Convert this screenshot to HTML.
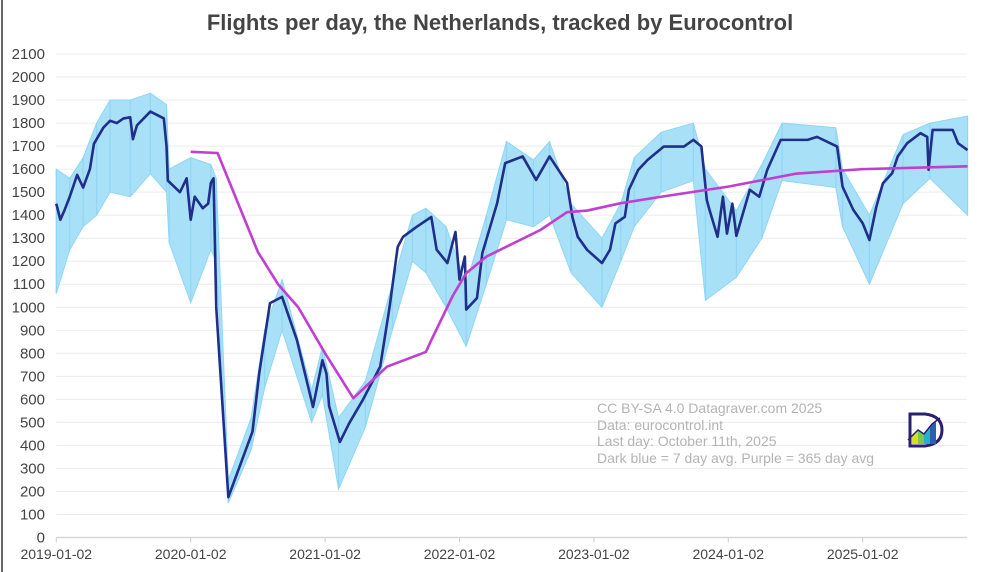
<!DOCTYPE html>
<html><head><meta charset="utf-8">
<style>
html,body{margin:0;padding:0;background:#fff;}
body{width:1000px;height:572px;overflow:hidden;position:relative;font-family:"Liberation Sans",sans-serif;}
#frame{position:absolute;left:1px;top:0;width:2px;height:572px;background:#666;}
</style></head>
<body>
<div id="frame"></div>
<svg id="chart" width="1000" height="572" style="position:absolute;left:0;top:0">
<text x="500" y="30" text-anchor="middle" font-size="22" font-weight="bold" fill="#444">Flights per day, the Netherlands, tracked by Eurocontrol</text>
<g id="grid"></g>
<g id="yaxis"></g>
<g id="xaxis"></g>
<g id="series"></g>
<g font-size="14" fill="#b4b4b4">
<text x="597" y="413">CC BY-SA 4.0 Datagraver.com 2025</text>
<text x="597" y="430">Data: eurocontrol.int</text>
<text x="597" y="446">Last day: October 11th, 2025</text>
<text x="597" y="463">Dark blue = 7 day avg. Purple = 365 day avg</text>
</g>
<g>
<path d="M910 414 L925 414 Q942 416 942 430 Q942 444 925 446 L910 446 Z" fill="#fff" stroke="#2a1f70" stroke-width="3"/>
<polygon points="912,444 912,436 918,430 918,444" fill="#d6e020"/>
<polygon points="918,444 918,430 924,434 924,444" fill="#7cc84a"/>
<polygon points="924,444 924,434 930,426 930,444" fill="#29b0c8"/>
<polygon points="930,444 930,426 936,422 936,444" fill="#2b5fb0"/>
<polyline points="908,440 918,430 924,434 932,424 940,418" fill="none" stroke="#2a1f70" stroke-width="1.5"/>
</g>
</svg>
<script>
// ---- data (t = years since 2019-01-02) ----
const avgDates=[0,0.03,0.06,0.1,0.155,0.2,0.25,0.28,0.35,0.4,0.45,0.5,0.55,0.57,0.6,0.7,0.8,0.82,0.83,0.92,0.97,1.0,1.03,1.09,1.13,1.15,1.17,1.19,1.28,1.46,1.51,1.59,1.68,1.79,1.91,1.98,2.01,2.03,2.11,2.18,2.28,2.41,2.48,2.54,2.58,2.68,2.79,2.83,2.91,2.97,3.0,3.04,3.05,3.13,3.17,3.28,3.34,3.47,3.57,3.67,3.8,3.84,3.88,3.95,4.06,4.12,4.16,4.23,4.26,4.33,4.4,4.52,4.67,4.74,4.8,4.84,4.86,4.92,4.96,4.99,5.03,5.06,5.16,5.23,5.29,5.39,5.59,5.66,5.81,5.85,5.93,6.0,6.05,6.1,6.15,6.22,6.26,6.33,6.43,6.48,6.49,6.52,6.67,6.71,6.78];
const avg7=[1450,1380,1420,1480,1575,1520,1600,1710,1780,1810,1800,1820,1825,1730,1790,1850,1820,1700,1550,1500,1560,1380,1480,1430,1450,1540,1560,1000,175,460,714,1018,1045,858,567,770,712,570,415,497,597,742,1002,1262,1306,1349,1392,1250,1192,1327,1120,1220,990,1040,1235,1452,1626,1655,1553,1655,1540,1392,1306,1249,1192,1250,1364,1393,1510,1597,1640,1698,1698,1727,1698,1466,1423,1306,1480,1320,1450,1310,1510,1480,1597,1727,1727,1740,1698,1524,1423,1365,1292,1433,1538,1583,1654,1712,1756,1740,1597,1770,1770,1712,1683];
const yrDates=[1.0,1.2,1.5,1.65,1.8,2.0,2.21,2.46,2.75,2.79,2.95,3.05,3.2,3.6,3.8,3.95,4.2,4.5,5.0,5.5,6.0,6.78];
const avg365=[1675,1670,1240,1100,1000,800,605,742,806,857,1050,1148,1220,1335,1413,1420,1452,1480,1524,1580,1600,1612];
const bandDates=[0,0.1,0.2,0.3,0.4,0.55,0.7,0.82,0.84,1.0,1.15,1.19,1.28,1.45,1.55,1.68,1.9,1.98,2.1,2.3,2.5,2.65,2.75,2.9,3.05,3.2,3.35,3.55,3.67,3.83,4.06,4.2,4.3,4.5,4.74,4.83,5.06,5.25,5.4,5.8,5.85,6.05,6.3,6.5,6.78];
const dailyHi=[1600,1560,1650,1800,1900,1900,1930,1880,1600,1650,1620,1560,250,520,900,1120,640,830,520,680,1100,1400,1430,1350,1100,1400,1720,1640,1720,1450,1300,1450,1650,1760,1800,1600,1420,1620,1800,1780,1600,1400,1750,1800,1830];
const dailyLo=[1060,1250,1350,1400,1500,1480,1580,1500,1280,1020,1250,1200,150,380,650,900,500,620,210,480,900,1200,1150,1000,830,1100,1380,1350,1400,1150,1000,1200,1350,1500,1550,1030,1130,1300,1550,1520,1350,1100,1450,1560,1400];
const yTicks=[0,100,200,300,400,500,600,700,800,900,1000,1100,1200,1300,1400,1500,1600,1700,1800,1900,2000,2100];
const xTickLabels=["2019-01-02","2020-01-02","2021-01-02","2022-01-02","2023-01-02","2024-01-02","2025-01-02"];
const xTickYears=[0,1,2,3,4,5,6];

const X0=56.3, PXY=134.4, Y0=537.5, PPU=0.23024, XEND=967;
const xs=t=>X0+t*PXY;
const ys=v=>Y0-v*PPU;
const NS="http://www.w3.org/2000/svg";
function mk(tag,attrs,parent){const e=document.createElementNS(NS,tag);for(const k in attrs)e.setAttribute(k,attrs[k]);parent.appendChild(e);return e;}

const grid=document.getElementById('grid'), ya=document.getElementById('yaxis'), xa=document.getElementById('xaxis'), se=document.getElementById('series');
yTicks.forEach(v=>{
  const l=mk('line',{x1:X0,x2:XEND,y1:ys(v),y2:ys(v),stroke:v===0?'#d8d8d8':'#ebebeb','stroke-width':v===0?1.5:1},grid);
  
  
  const t=mk('text',{x:45,y:ys(v)+5,'text-anchor':'end','font-size':15,fill:'#444'},ya);
  t.textContent=v;
  
  
});
xTickYears.forEach((yr,i)=>{
  const tk=mk('line',{x1:xs(yr),x2:xs(yr),y1:Y0,y2:Y0+5,stroke:'#ccc'},xa);
  
  
  const t=mk('text',{x:xs(yr),y:559,'text-anchor':'middle','font-size':14,fill:'#444'},xa);
  t.textContent=xTickLabels[i];
  
  
});
// daily band
let pts=bandDates.map((d,i)=>xs(d)+','+ys(dailyHi[i]));
for(let i=bandDates.length-1;i>=0;i--)pts.push(xs(bandDates[i])+','+ys(dailyLo[i]));
const band=mk('polygon',{points:pts.join(' '),fill:'#a8e0f7',stroke:'#8fd6f4','stroke-width':1},se);


bandDates.forEach((d,i)=>{
  const s=mk('line',{x1:xs(d),x2:xs(d),y1:ys(dailyHi[i]),y2:ys(dailyLo[i]),stroke:'#8fd6f4','stroke-width':1.2},se);
  
  
});
const p7=mk('polyline',{points:avgDates.map((d,i)=>xs(d)+','+ys(avg7[i])).join(' '),fill:'none',stroke:'#1f2f8a','stroke-width':2.6,'stroke-linejoin':'round'},se);


const p365=mk('polyline',{points:yrDates.map((d,i)=>xs(d)+','+ys(avg365[i])).join(' '),fill:'none',stroke:'#c03ed0','stroke-width':2.6,'stroke-linejoin':'round'},se);


</script>
</body></html>
